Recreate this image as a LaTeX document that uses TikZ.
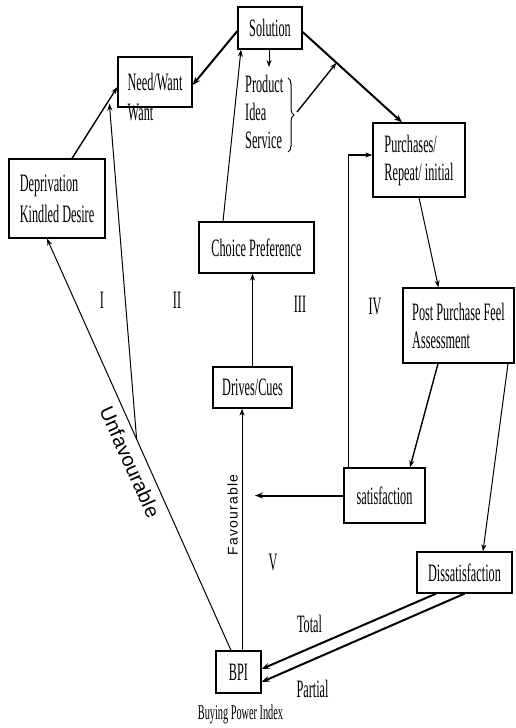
\documentclass[tikz,border=0pt]{standalone}
\usepackage{fontspec}
\setmainfont{Liberation Serif}[FakeStretch=0.49]
\newfontfamily\slanted{Liberation Sans}
\newfontfamily\upright{Liberation Sans}[LetterSpace=9]
\usetikzlibrary{arrows.meta,calc,decorations.pathreplacing}

\tikzset{
  box/.style={draw, line width=1.3pt, rectangle, inner sep=0pt,
    font=\fontsize{25}{28}\selectfont},
  txt/.style={inner sep=0pt, font=\fontsize{25}{28}\selectfont},
  smalltxt/.style={inner sep=0pt, font=\fontsize{21}{24}\selectfont},
  conn/.style={line width=1pt, -{Stealth[length=7pt,width=5pt]}},
  midconn/.style={line width=1.4pt, -{Stealth[length=7pt,width=5pt]}},
  heavy/.style={line width=2pt, -{Stealth[length=8pt,width=6pt]}},
}

\begin{document}
\begin{tikzpicture}[x=1pt,y=-1pt]
\useasboundingbox[fill=white] (0,0) rectangle (516,728);

% boxes
\node[box, minimum width=64pt,  minimum height=42pt] (sol)    at (270,28)      {Solution};
\node[box, minimum width=74pt,  minimum height=50pt] (need)   at (155,82)      {Need/Want};
\node[box, minimum width=96pt,  minimum height=79pt, align=left] (dep) at (57,198.5) {Deprivation\\[3pt]Kindled Desire};
\node[box, minimum width=115pt, minimum height=51pt] (choice) at (256.5,247.5) {Choice Preference};
\node[box, minimum width=92pt,  minimum height=74pt, align=left] (purch) at (419,160) {Purchases/\\Repeat/ initial};
\node[box, minimum width=111pt, minimum height=75pt, align=left] (post) at (458.5,325.5) {Post Purchase Feel\\Assessment};
\node[box, minimum width=79pt,  minimum height=41pt] (drives) at (252.5,387.5) {Drives/Cues};
\node[box, minimum width=81pt,  minimum height=55pt] (sat)    at (384.5,495.5) {satisfaction};
\node[box, minimum width=95pt,  minimum height=41pt] (dis)    at (464.5,572.5) {Dissatisfaction};
\node[box, minimum width=45pt,  minimum height=42pt] (bpi)    at (238.5,672)   {BPI};

% free texts
\node[txt] (want) at (140.5,113) {Want};
\node[txt, align=left, anchor=north west] (prod) at (245,75) {Product\\Idea\\Service};
\node[smalltxt] (bpiname) at (240.5,714) {Buying Power Index};
\node[txt] (r1) at (102,300) {I};
\node[txt] (r2) at (177,300) {II};
\node[txt] (r3) at (300,304) {III};
\node[txt] (r4) at (375,306) {IV};
\node[txt] (r5) at (273,562) {V};
\node[txt] (total) at (309.5,624) {Total};
\node[txt] (partial) at (312.5,689) {Partial};

% brace grouping the offers
\coordinate (brtop) at (288,78);
\coordinate (brbot) at (288,152);
\draw[line width=1pt, decorate, decoration={brace, amplitude=6pt}] (brtop) -- (brbot);
\coordinate (brtip) at (297,112);

% connectors
\draw[midconn] ([xshift=15pt]dep.north) -- ([yshift=-5pt]need.west);
\draw[heavy] ([yshift=-3pt]sol.west) -- ([yshift=-3pt]need.east);
\draw[conn] ([xshift=-33.5pt]choice.north) -- ([xshift=-29pt]sol.south);
\draw[conn, shorten >=8pt] ([xshift=-1pt]sol.south) -- ([xshift=-1pt]sol.south |- prod.north);

\coordinate (s1) at ([yshift=-4pt]sol.east);
\coordinate (p1) at ([xshift=-17pt]purch.north);
\draw[heavy] (s1) -- (p1);
\draw[midconn] (brtip) -- ($(s1)!0.34!(p1)$);

\draw[midconn] ([xshift=5pt]sat.north west) |- ([yshift=5pt]purch.west);
\draw[conn] (purch.south) -- ([xshift=-20pt]post.north);
\draw[midconn] ([xshift=-20.5pt]post.south) -- ([xshift=25.5pt]sat.north);
\draw[conn] ([xshift=49.5pt]post.south) -- ([xshift=18.5pt]dis.north);

\coordinate (lfend) at (255,495.5);
\draw[heavy] (sat.west) -- (lfend);

\draw[heavy] ([xshift=-28.5pt]dis.south) -- ([yshift=3pt]bpi.east);
\draw[heavy] (dis.south) -- ([yshift=-10pt]bpi.east);

\coordinate (u1) at ([xshift=-7.5pt]bpi.north);
\coordinate (u2) at ([xshift=-10pt]dep.south);
\draw[conn] (u1) -- (u2);
\draw[conn] ($(u1)!0.513!(u2)$) -- ([xshift=-8pt,yshift=4pt]need.south west);

\draw[conn] ([xshift=3.5pt]bpi.north) -- ([xshift=-10.5pt]drives.south);
\draw[conn] (drives.north) -- (drives.north |- choice.south);

% path labels
\node[inner sep=0pt, rotate=-65.8, font=\slanted\fontsize{20}{22}\selectfont] (unfav) at (130,462) {Unfavourable};
\node[inner sep=0pt, rotate=90, font=\upright\fontsize{14}{17}\selectfont] (fav) at (232.5,515) {Favourable};
\end{tikzpicture}
\end{document}
